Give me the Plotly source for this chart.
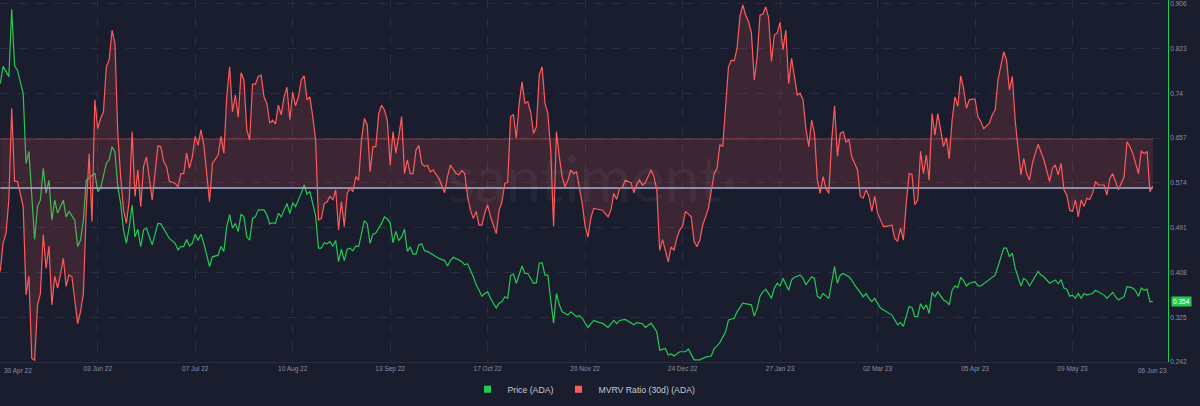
import numpy as np
import pandas as pd
import plotly.graph_objects as go

# ---------------- data ----------------
START = pd.Timestamp("2022-04-30")          # day 0 of the series

# ADA price (USD), days since 30 Apr 22
price_day = [
    0, 1, 3, 4, 5, 6, 8, 9, 10, 11,
    12, 13, 14, 15, 16, 17, 18, 19, 20, 22,
    23, 24, 26, 27, 28, 29, 30, 33, 34, 35,
    37, 38, 39, 40, 41, 42, 43, 44, 45, 46,
    47, 48, 49, 50, 51, 53, 55, 56, 58, 59,
    61, 62, 63, 64, 65, 66, 67, 68, 69, 70,
    71, 73, 74, 76, 77, 78, 79, 80, 81, 82,
    83, 84, 85, 86, 87, 88, 89, 90, 92, 93,
    94, 95, 96, 97, 98, 100, 101, 102, 103, 104,
    105, 106, 107, 108, 109, 110, 111, 112, 113, 114,
    115, 116, 117, 118, 119, 120, 121, 122, 123, 124,
    125, 126, 127, 128, 129, 130, 131, 133, 134, 135,
    136, 137, 138, 139, 140, 141, 142, 143, 144, 145,
    146, 147, 148, 149, 151, 152, 153, 155, 156, 157,
    158, 160, 161, 162, 163, 165, 166, 167, 168, 169,
    170, 171, 173, 174, 175, 176, 177, 178, 179, 180,
    182, 183, 184, 186, 187, 188, 189, 190, 191, 192,
    193, 194, 195, 196, 198, 199, 201, 202, 203, 205,
    207, 209, 210, 212, 214, 215, 216, 218, 220, 221,
    222, 224, 225, 227, 229, 230, 232, 233, 234, 235,
    237, 239, 240, 241, 242, 244, 246, 248, 249, 250,
    251, 253, 254, 256, 257, 259, 260, 262, 263, 264,
    265, 266, 267, 269, 270, 271, 272, 273, 275, 276,
    277, 279, 280, 281, 283, 284, 285, 286, 287, 289,
    291, 292, 293, 294, 296, 297, 298, 300, 301, 302,
    303, 304, 305, 307, 309, 310, 311, 313, 314, 315,
    316, 317, 318, 319, 320, 321, 322, 323, 324, 325,
    326, 327, 329, 330, 331, 332, 333, 334, 335, 336,
    337, 338, 340, 341, 342, 343, 345, 347, 348, 349,
    350, 351, 352, 353, 354, 356, 357, 358, 359, 361,
    362, 363, 364, 366, 368, 369, 370, 371, 372, 373,
    374, 375, 376, 377, 378, 379, 381, 382, 384, 385,
    386, 388, 389, 390, 392, 393, 395, 396, 397, 398,
    399, 400, 401, 402,
]
price_usd = [
    0.758, 0.790, 0.771, 0.896, 0.791, 0.783, 0.740, 0.610, 0.632, 0.550,
    0.469, 0.530, 0.542, 0.601, 0.555, 0.579, 0.505, 0.542, 0.518, 0.542,
    0.511, 0.521, 0.505, 0.456, 0.468, 0.505, 0.579, 0.592, 0.558, 0.564,
    0.610, 0.617, 0.641, 0.632, 0.567, 0.536, 0.487, 0.462, 0.493, 0.533,
    0.474, 0.488, 0.456, 0.487, 0.490, 0.459, 0.499, 0.498, 0.481, 0.471,
    0.462, 0.450, 0.456, 0.456, 0.469, 0.457, 0.462, 0.479, 0.467, 0.479,
    0.462, 0.419, 0.437, 0.440, 0.456, 0.447, 0.493, 0.515, 0.490, 0.499,
    0.484, 0.516, 0.511, 0.474, 0.468, 0.508, 0.511, 0.524, 0.524, 0.515,
    0.498, 0.500, 0.499, 0.518, 0.511, 0.536, 0.517, 0.537, 0.530, 0.542,
    0.555, 0.570, 0.553, 0.558, 0.536, 0.513, 0.453, 0.453, 0.463, 0.461,
    0.465, 0.457, 0.467, 0.428, 0.451, 0.430, 0.451, 0.453, 0.448, 0.457,
    0.456, 0.481, 0.504, 0.498, 0.462, 0.479, 0.481, 0.499, 0.511, 0.507,
    0.500, 0.463, 0.484, 0.467, 0.474, 0.488, 0.447, 0.455, 0.442, 0.442,
    0.459, 0.461, 0.448, 0.447, 0.440, 0.437, 0.434, 0.430, 0.420, 0.430,
    0.436, 0.431, 0.428, 0.422, 0.424, 0.400, 0.385, 0.375, 0.364, 0.369,
    0.372, 0.360, 0.342, 0.351, 0.354, 0.363, 0.360, 0.402, 0.405, 0.388,
    0.420, 0.406, 0.406, 0.388, 0.389, 0.425, 0.426, 0.403, 0.403, 0.357,
    0.314, 0.369, 0.348, 0.335, 0.329, 0.335, 0.326, 0.328, 0.323, 0.306,
    0.319, 0.315, 0.314, 0.306, 0.319, 0.313, 0.319, 0.321, 0.315, 0.311,
    0.315, 0.313, 0.306, 0.314, 0.298, 0.264, 0.267, 0.255, 0.257, 0.253,
    0.261, 0.261, 0.266, 0.255, 0.246, 0.246, 0.251, 0.253, 0.267, 0.272,
    0.278, 0.298, 0.320, 0.323, 0.335, 0.351, 0.350, 0.348, 0.327, 0.341,
    0.364, 0.372, 0.377, 0.360, 0.379, 0.388, 0.383, 0.397, 0.375, 0.394,
    0.399, 0.403, 0.397, 0.385, 0.400, 0.397, 0.364, 0.360, 0.369, 0.360,
    0.419, 0.388, 0.403, 0.406, 0.400, 0.394, 0.385, 0.369, 0.363, 0.369,
    0.360, 0.354, 0.360, 0.342, 0.335, 0.332, 0.329, 0.311, 0.315, 0.308,
    0.329, 0.345, 0.343, 0.326, 0.326, 0.350, 0.340, 0.348, 0.332, 0.371,
    0.363, 0.372, 0.357, 0.354, 0.348, 0.375, 0.383, 0.380, 0.399, 0.393,
    0.383, 0.388, 0.391, 0.383, 0.383, 0.387, 0.395, 0.403, 0.419, 0.437,
    0.453, 0.453, 0.437, 0.444, 0.416, 0.383, 0.397, 0.393, 0.383, 0.401,
    0.410, 0.403, 0.400, 0.388, 0.394, 0.387, 0.395, 0.379, 0.377, 0.364,
    0.366, 0.360, 0.369, 0.360, 0.369, 0.366, 0.369, 0.375, 0.369, 0.366,
    0.360, 0.371, 0.363, 0.357, 0.363, 0.382, 0.379, 0.374, 0.364, 0.379,
    0.375, 0.377, 0.354, 0.354,
]

# MVRV ratio (30d), days since 30 Apr 22
mvrv_day = [
    0, 1, 2, 3, 4, 5, 6, 7, 8, 9,
    10, 11, 12, 13, 14, 15, 16, 17, 18, 19,
    20, 21, 22, 23, 24, 25, 26, 27, 28, 29,
    30, 31, 32, 33, 34, 35, 36, 37, 38, 39,
    40, 41, 42, 43, 44, 45, 46, 47, 48, 49,
    50, 51, 53, 55, 56, 57, 58, 59, 61, 62,
    63, 64, 65, 66, 67, 68, 69, 70, 71, 72,
    73, 74, 75, 76, 77, 78, 79, 80, 81, 82,
    83, 84, 85, 86, 87, 88, 89, 90, 91, 92,
    93, 94, 95, 96, 97, 98, 99, 100, 101, 102,
    103, 104, 105, 106, 107, 108, 109, 110, 111, 112,
    113, 114, 115, 116, 117, 118, 119, 120, 121, 122,
    123, 124, 125, 126, 127, 128, 129, 130, 131, 132,
    133, 134, 135, 136, 137, 138, 139, 140, 141, 142,
    143, 144, 145, 146, 147, 148, 149, 150, 151, 152,
    153, 155, 156, 157, 158, 159, 160, 161, 162, 163,
    164, 165, 166, 167, 168, 169, 170, 171, 173, 174,
    175, 176, 177, 178, 179, 180, 181, 182, 183, 184,
    185, 186, 187, 188, 189, 190, 191, 192, 193, 194,
    195, 196, 197, 198, 199, 200, 201, 202, 203, 204,
    205, 206, 207, 208, 210, 212, 213, 214, 215, 216,
    217, 218, 219, 220, 221, 222, 223, 224, 225, 227,
    228, 229, 230, 231, 233, 234, 235, 236, 237, 238,
    239, 241, 242, 243, 244, 245, 247, 249, 250, 251,
    252, 254, 255, 256, 257, 258, 259, 260, 261, 262,
    263, 264, 265, 266, 267, 268, 269, 270, 271, 272,
    273, 274, 275, 276, 277, 278, 279, 280, 281, 282,
    283, 284, 285, 286, 287, 288, 289, 290, 291, 292,
    293, 294, 295, 296, 297, 298, 299, 300, 301, 302,
    303, 304, 305, 306, 308, 309, 311, 312, 313, 314,
    315, 316, 317, 318, 319, 320, 321, 322, 323, 324,
    325, 326, 327, 329, 330, 331, 332, 333, 334, 335,
    336, 337, 338, 339, 340, 341, 342, 343, 345, 346,
    347, 348, 349, 350, 351, 352, 353, 354, 355, 356,
    357, 358, 359, 360, 362, 363, 364, 366, 367, 368,
    369, 370, 371, 372, 373, 374, 375, 376, 377, 378,
    379, 380, 381, 382, 383, 385, 386, 387, 388, 390,
    392, 393, 394, 395, 397, 398, 399, 400, 401, 402,
]
mvrv_ratio = [
    0.861, 0.908, 0.924, 0.980, 1.133, 1.011, 1.011, 0.991, 0.969, 0.822,
    0.853, 0.716, 0.713, 0.805, 0.824, 0.922, 0.866, 0.903, 0.805, 0.853,
    0.833, 0.855, 0.883, 0.836, 0.855, 0.852, 0.813, 0.774, 0.794, 0.824,
    0.963, 1.057, 0.944, 1.147, 1.099, 1.116, 1.127, 1.202, 1.214, 1.263,
    1.241, 1.091, 1.019, 0.963, 0.941, 0.980, 1.094, 0.986, 1.030, 0.969,
    1.036, 1.052, 0.980, 1.070, 1.069, 1.044, 1.036, 1.011, 1.008, 1.002,
    1.024, 1.024, 1.058, 1.033, 1.052, 1.086, 1.071, 1.097, 1.072, 1.030,
    0.977, 1.041, 1.048, 1.055, 1.086, 1.058, 1.152, 1.202, 1.127, 1.155,
    1.118, 1.192, 1.180, 1.097, 1.080, 1.173, 1.173, 1.186, 1.188, 1.152,
    1.141, 1.108, 1.113, 1.107, 1.138, 1.122, 1.152, 1.168, 1.114, 1.160,
    1.137, 1.152, 1.180, 1.187, 1.147, 1.152, 1.119, 1.080, 0.947, 0.949,
    0.974, 0.977, 0.986, 0.980, 0.997, 0.930, 0.977, 0.936, 0.991, 1.000,
    0.994, 1.019, 1.013, 1.080, 1.116, 1.105, 1.027, 1.069, 1.069, 1.124,
    1.138, 1.130, 1.113, 1.038, 1.094, 1.058, 1.086, 1.119, 1.024, 1.047,
    1.024, 1.024, 1.063, 1.071, 1.041, 1.036, 1.038, 1.027, 1.030, 1.024,
    1.016, 0.992, 1.019, 1.038, 1.030, 1.024, 1.022, 1.029, 1.024, 0.986,
    0.963, 0.949, 0.961, 0.938, 0.938, 0.958, 0.972, 0.952, 0.924, 0.963,
    0.977, 1.008, 1.009, 1.119, 1.122, 1.083, 1.141, 1.177, 1.141, 1.144,
    1.127, 1.091, 1.102, 1.188, 1.202, 1.141, 1.124, 1.063, 0.936, 1.094,
    1.052, 1.019, 1.002, 1.013, 1.030, 1.024, 1.027, 1.000, 0.974, 0.936,
    0.918, 0.950, 0.966, 0.965, 0.963, 0.952, 0.963, 0.991, 0.981, 0.999,
    1.001, 1.013, 1.011, 1.009, 0.992, 1.006, 1.013, 1.005, 1.009, 1.030,
    1.019, 0.997, 0.896, 0.914, 0.877, 0.902, 0.896, 0.916, 0.930, 0.936,
    0.961, 0.952, 0.911, 0.902, 0.913, 0.938, 0.966, 1.024, 1.033, 1.072,
    1.070, 1.202, 1.213, 1.212, 1.233, 1.286, 1.305, 1.288, 1.277, 1.258,
    1.180, 1.219, 1.288, 1.290, 1.302, 1.284, 1.211, 1.255, 1.258, 1.276,
    1.230, 1.263, 1.174, 1.216, 1.186, 1.155, 1.158, 1.147, 1.099, 1.069,
    1.113, 1.091, 1.013, 0.991, 1.019, 0.999, 0.991, 1.080, 1.137, 1.053,
    1.091, 1.094, 1.076, 1.081, 1.052, 1.041, 1.030, 0.986, 0.983, 0.997,
    0.986, 0.961, 0.986, 0.958, 0.936, 0.936, 0.938, 0.916, 0.911, 0.933,
    0.913, 0.974, 1.024, 1.023, 0.972, 0.980, 1.061, 1.024, 1.055, 1.013,
    1.124, 1.088, 1.124, 1.069, 1.084, 1.049, 1.113, 1.152, 1.136, 1.187,
    1.166, 1.133, 1.147, 1.148, 1.148, 1.119, 1.111, 1.099, 1.108, 1.122,
    1.130, 1.180, 1.205, 1.227, 1.213, 1.163, 1.186, 1.113, 1.066, 1.022,
    1.049, 1.024, 1.013, 1.041, 1.073, 1.058, 1.047, 1.011, 1.033, 1.038,
    1.022, 1.041, 0.997, 0.988, 0.963, 0.961, 0.980, 0.952, 0.980, 0.969,
    0.983, 0.981, 0.991, 1.011, 1.005, 1.005, 0.988, 1.016, 1.024, 0.997,
    1.019, 1.077, 1.069, 1.058, 1.024, 1.062, 1.057, 1.061, 0.994, 1.003,
]

# reference zone drawn behind the MVRV line
mvrv_base = 1.0
mvrv_zone_top = 1.0817

# axis ticks
price_ticks = [0.242, 0.325, 0.408, 0.491, 0.574, 0.657, 0.74, 0.823, 0.906]
date_ticks = ["2022-06-03", "2022-07-07", "2022-08-10", "2022-09-13", "2022-10-17",
              "2022-11-20", "2022-12-24", "2023-01-27", "2023-03-02", "2023-04-05",
              "2023-05-09"]
date_tick_text = ["03 Jun 22", "07 Jul 22", "10 Aug 22", "13 Sep 22", "17 Oct 22",
                  "20 Nov 22", "24 Dec 22", "27 Jan 23", "02 Mar 23", "05 Apr 23",
                  "09 May 23"]
first_label, last_label = "30 Apr 22", "06 Jun 23"

assert len(price_day) == len(price_usd)
assert len(mvrv_day) == len(mvrv_ratio)

# ---------------- styling ----------------
BG = "#1a1d2d"
GRID = "#2a2e42"
GREEN = "#26c953"
RED = "#ff5b5b"
FILL = "rgba(255,91,91,0.15)"
AXIS_TXT = "#8b90a5"
FONT = "Liberation Sans, Arial, sans-serif"


def to_dates(days):
    return START + pd.to_timedelta(np.asarray(days, dtype=float), unit="D")


def clamp_path(x, y, level, keep_above):
    """Path of max(y, level) (or min) with the crossing points inserted."""
    xs, ys = [], []
    for i in range(len(x)):
        if i > 0:
            y0, y1 = y[i - 1], y[i]
            if (y0 - level) * (y1 - level) < 0:
                t = (level - y0) / (y1 - y0)
                xs.append(x[i - 1] + t * (x[i] - x[i - 1]))
                ys.append(level)
        xs.append(x[i])
        ys.append(max(y[i], level) if keep_above else min(y[i], level))
    return xs, ys


lo_x, lo_y = clamp_path(mvrv_day, mvrv_ratio, mvrv_base, keep_above=False)
hi_x, hi_y = clamp_path(mvrv_day, mvrv_ratio, mvrv_zone_top, keep_above=True)

first_date = to_dates([mvrv_day[0]])[0]
last_date = to_dates([mvrv_day[-1]])[0]

fig = go.Figure()

# legend entries (square swatches)
fig.add_trace(go.Scatter(x=[None], y=[None], mode="markers", name="Price (ADA)",
                         marker=dict(symbol="square", size=7, color=GREEN)))
fig.add_trace(go.Scatter(x=[None], y=[None], mode="markers", name="MVRV Ratio (30d) (ADA)",
                         marker=dict(symbol="square", size=7, color=RED)))

# shaded zone / area of the MVRV series
fig.add_trace(go.Scatter(x=to_dates(lo_x), y=lo_y, yaxis="y2", mode="lines",
                         line=dict(width=0, color=FILL), hoverinfo="skip",
                         showlegend=False))
fig.add_trace(go.Scatter(x=to_dates(hi_x), y=hi_y, yaxis="y2", mode="lines",
                         line=dict(width=0, color=FILL), fill="tonexty",
                         fillcolor=FILL, hoverinfo="skip", showlegend=False))
# zone edges
fig.add_trace(go.Scatter(x=[first_date, last_date], y=[mvrv_zone_top] * 2, yaxis="y2",
                         mode="lines", line=dict(width=1, color="rgba(255,91,91,0.45)"),
                         hoverinfo="skip", showlegend=False))
fig.add_trace(go.Scatter(x=[first_date, last_date], y=[mvrv_base] * 2, yaxis="y2",
                         mode="lines", line=dict(width=1.6, color="#a9b2d4"),
                         hoverinfo="skip", showlegend=False))
# series lines
fig.add_trace(go.Scatter(x=to_dates(mvrv_day), y=mvrv_ratio, yaxis="y2", mode="lines",
                         name="MVRV Ratio (30d) (ADA)", line=dict(color=RED, width=1.2),
                         showlegend=False))
fig.add_trace(go.Scatter(x=to_dates(price_day), y=price_usd, mode="lines",
                         name="Price (ADA)", line=dict(color=GREEN, width=1.2),
                         showlegend=False))

x_range = [START - pd.Timedelta(hours=2), START + pd.Timedelta(days=407.3)]

fig.update_layout(
    width=1200, height=406,
    margin=dict(l=0, r=32, t=0, b=44),
    paper_bgcolor=BG, plot_bgcolor=BG,
    font=dict(family=FONT, color=AXIS_TXT, size=6.5),
    showlegend=True,
    legend=dict(orientation="h", x=0.5, xanchor="center", y=-0.075, yanchor="middle",
                traceorder="normal",
                font=dict(size=8.7, color="#c5c9d6", family=FONT),
                bgcolor="rgba(0,0,0,0)", itemclick=False, itemdoubleclick=False),
    xaxis=dict(type="date", range=x_range, tickvals=date_ticks, ticktext=date_tick_text,
               showgrid=True, gridcolor=GRID, griddash="dash", gridwidth=1,
               showline=True, linecolor=GRID, linewidth=1, zeroline=False,
               ticks="", tickfont=dict(size=6.5, color=AXIS_TXT), fixedrange=True),
    yaxis=dict(side="right", range=[0.242, 0.913], tickvals=price_ticks,
               ticktext=[f"{v:g}" for v in price_ticks],
               showgrid=True, gridcolor=GRID, griddash="dash", gridwidth=1,
               showline=True, linecolor=GREEN, linewidth=1, zeroline=False,
               ticks="", tickfont=dict(size=6.5, color=AXIS_TXT), fixedrange=True),
    yaxis2=dict(overlaying="y", range=[0.71, 1.31333], visible=False, fixedrange=True),
)

# first / last date labels (clamped at the edges like the original)
fig.add_annotation(x=first_date, y=0, xref="x", yref="paper", text=first_label,
                   showarrow=False, xanchor="left", yanchor="top", xshift=2, yshift=-3,
                   font=dict(size=6.5, color=AXIS_TXT, family=FONT))
fig.add_annotation(x=last_date, y=0, xref="x", yref="paper", text=last_label,
                   showarrow=False, xanchor="center", yanchor="top", yshift=-3,
                   font=dict(size=6.5, color=AXIS_TXT, family=FONT))
# last price tag
fig.add_annotation(x=1, y=price_usd[-1], xref="paper", yref="y", text=f"{price_usd[-1]:.3f}",
                   showarrow=False, xanchor="left", yanchor="middle", xshift=3,
                   bgcolor=GREEN, borderpad=1,
                   font=dict(size=6.5, color="#ffffff", family=FONT))
# watermark
fig.add_annotation(x=0.5, y=0.51, xref="paper", yref="paper", text="·santiment·",
                   showarrow=False, xanchor="center", yanchor="middle",
                   font=dict(size=63, color="rgba(255,255,255,0.045)", family="Lato"))

fig.write_html("out.html")
